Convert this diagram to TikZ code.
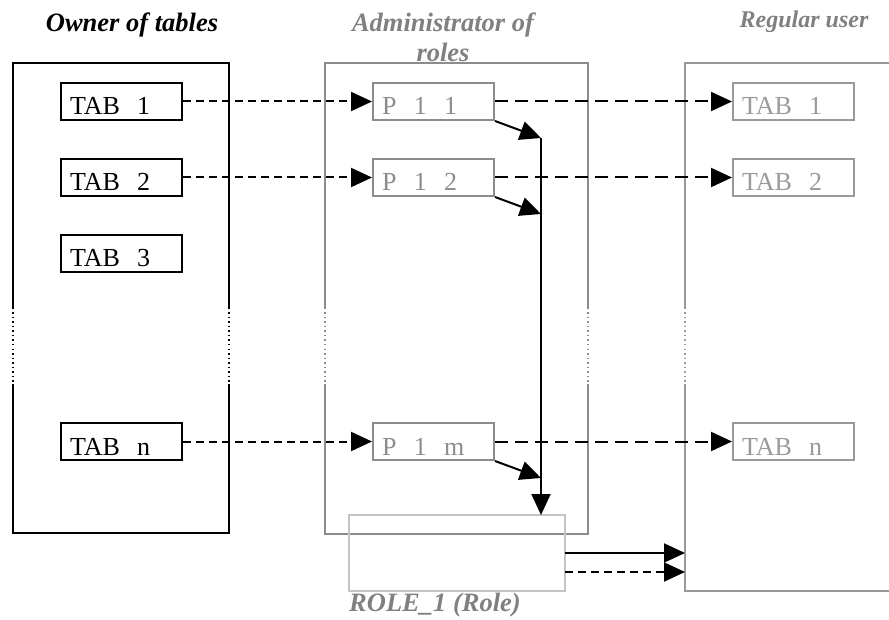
\documentclass[tikz,border=0pt]{standalone}
\usepackage{fontspec}
\setmainfont{Liberation Serif}
\usetikzlibrary{arrows.meta,calc}
\definecolor{admgray}{HTML}{8C8C8C}
\definecolor{rolegray}{HTML}{C4C4C4}
\definecolor{usrgray}{HTML}{9A9A9A}
\definecolor{titlegray}{HTML}{808080}
\begin{document}
\begin{tikzpicture}[x=1pt,y=-1pt,
  tabbox/.style={draw, line width=2pt, anchor=north west, inner xsep=9pt, inner ysep=0pt,
    text width=103pt, align=left, minimum height=37pt, text height=27pt, text depth=0pt,
    font=\fontsize{26}{30}\selectfont},
  ownbox/.style={tabbox, draw=black, text=black},
  admbox/.style={tabbox, draw=admgray, text=admgray},
  usrbox/.style={tabbox, draw=usrgray, text=usrgray},
  container/.style={anchor=north west, inner sep=0pt, outer sep=0pt},
  solidside/.style={line width=2pt},
  dotside/.style={line width=1.5pt, dash pattern=on 1.5pt off 3pt},
  tip/.style={-{Triangle[length=21pt,width=19pt]}},
  shortarr/.style={line width=2pt, dash pattern=on 8pt off 5pt, tip},
  longarr/.style={line width=2pt, dash pattern=on 13pt off 7pt, tip},
  solidarr/.style={line width=2pt, tip},
  title/.style={font=\fontsize{26.5}{30}\selectfont\bfseries\itshape, inner sep=0pt}
]
\useasboundingbox (0,0) rectangle (889,620);
\coordinate (gt) at (0,308);
\coordinate (gb) at (0,384);

% containers
\node[container, minimum width=216pt, minimum height=470pt] (owner) at (13,63) {};
\node[container, minimum width=263pt, minimum height=471pt] (admin) at (325,63) {};
\node[container, minimum width=204pt, minimum height=528pt] (regular) at (685,63) {};

\foreach \c/\col in {owner/black, admin/admgray} {
  \draw[solidside, draw=\col] (\c.west |- gt) -- (\c.north west) -- (\c.north east) -- (\c.east |- gt);
  \draw[solidside, draw=\col] (\c.west |- gb) -- (\c.south west) -- (\c.south east) -- (\c.east |- gb);
  \draw[dotside, draw=\col] (\c.west |- gt) -- (\c.west |- gb);
  \draw[dotside, draw=\col] (\c.east |- gt) -- (\c.east |- gb);
}
\draw[solidside, draw=usrgray] (regular.north east) -- (regular.north west) -- (regular.west |- gt);
\draw[solidside, draw=usrgray] (regular.south east) -- (regular.south west) -- (regular.west |- gb);
\draw[dotside, draw=usrgray] (regular.west |- gt) -- (regular.west |- gb);

% role box
\node[container, draw=rolegray, line width=2pt, minimum width=216pt, minimum height=76pt] (role) at (349,515) {};

% owner tables
\node[ownbox] (t1) at (60,82) {TAB~~1};
\node[ownbox] (t2) at (60,158) {TAB~~2};
\node[ownbox] (t3) at (60,234) {TAB~~3};
\node[ownbox] (tn) at (60,422) {TAB~~n};

% privileges
\node[admbox] (p1) at (372,82) {P~~1~~1};
\node[admbox] (p2) at (372,158) {P~~1~~2};
\node[admbox] (pm) at (372,422) {P~~1~~m};

% regular user tables
\node[usrbox] (u1) at (732,82) {TAB~~1};
\node[usrbox] (u2) at (732,158) {TAB~~2};
\node[usrbox] (un) at (732,422) {TAB~~n};

% dashed grants
\draw[shortarr] (t1.east) -- (p1.west);
\draw[shortarr] (t2.east) -- (p2.west);
\draw[shortarr] (tn.east) -- (pm.west);
\draw[longarr] (p1.east) -- (u1.west);
\draw[longarr] (p2.east) -- (u2.west);
\draw[longarr] (pm.east) -- (un.west);

% privileges into role
\coordinate (j1) at (541,138);
\coordinate (j2) at (541,214);
\coordinate (jm) at (541,478);
\draw[solidarr] (p1.south east) -- (j1);
\draw[solidarr] (p2.south east) -- (j2);
\draw[solidarr] (pm.south east) -- (jm);
\draw[solidarr] (j1) -- (j1 |- role.north);

% role to regular user
\coordinate (rs) at ($(role.east)+(0,0)$);
\coordinate (rd) at ($(role.east)+(0,19)$);
\draw[solidarr] (rs) -- (regular.west |- rs);
\draw[shortarr] (rd) -- (regular.west |- rd);

% titles
\node[title, anchor=base] (ttl1) at (132,32) {Owner of tables};
\node[title, text=titlegray, align=center, anchor=base] (ttl2) at (443,62) {Administrator of\\roles};
\node[title, font=\fontsize{24}{30}\selectfont\bfseries\itshape, text=titlegray, anchor=base] (ttl3) at (804,28) {Regular user};
\node[title, text=titlegray, anchor=base west] (ttl4) at (349,611) {ROLE\_1 (Role)};
\end{tikzpicture}
\end{document}
